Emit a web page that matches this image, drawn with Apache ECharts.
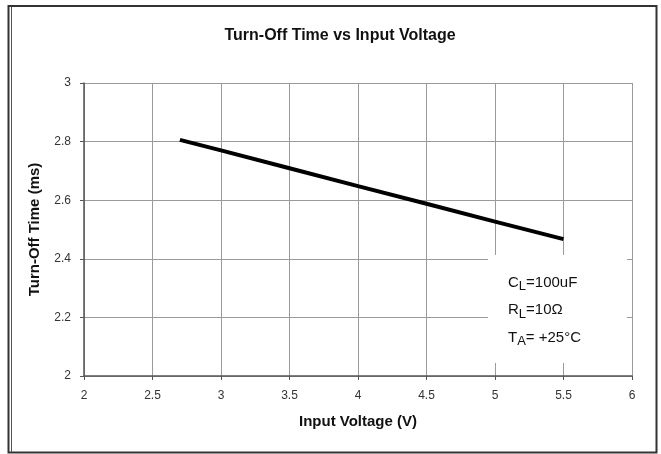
<!DOCTYPE html>
<html>
<head>
<meta charset="utf-8">
<script src="https://cdn.jsdelivr.net/npm/echarts@6/dist/echarts.min.js"></script>
<style>
html, body { margin: 0; padding: 0; background: #fff; }
#chart { width: 661px; height: 454px; }
</style>
</head>
<body>
<div id="chart"></div>
<script>
// data
var voltage = [2.7, 3, 3.5, 4, 4.5, 5, 5.5];
var turnOff = [2.806, 2.770, 2.709, 2.648, 2.588, 2.527, 2.467];
var notes = ['C{s|L}=100uF', 'R{s|L}=10Ω', 'T{s|A}= +25°C'];

var chart = echarts.init(document.getElementById('chart'));

var pairs = voltage.map(function (v, i) { return [v, turnOff[i]]; });

chart.setOption({
    backgroundColor: '#fff',
    animation: false,
    title: {
        text: 'Turn-Off Time vs Input Voltage',
        left: 335, top: 23, textAlign: 'center',
        textStyle: { fontFamily: 'Liberation Sans', fontSize: 16, fontWeight: 'bold', color: '#111' }
    },
    grid: { left: 84, right: 29, top: 83, bottom: 78 },
    xAxis: {
        type: 'value', min: 2, max: 6, interval: 0.5,
        name: 'Input Voltage (V)', nameLocation: 'middle', nameGap: 38,
        nameTextStyle: { fontFamily: 'Liberation Sans', fontSize: 15, fontWeight: 'bold', color: '#111' },
        axisLine: { lineStyle: { color: '#555', width: 1.5 } },
        axisTick: { show: true, length: 4, lineStyle: { color: '#555' } },
        axisLabel: { fontFamily: 'Liberation Sans', fontSize: 12, color: '#333', margin: 14 },
        splitLine: { lineStyle: { color: '#9a9a9a', width: 1 } }
    },
    yAxis: {
        type: 'value', min: 2, max: 3, interval: 0.2,
        name: 'Turn-Off Time (ms)', nameLocation: 'middle', nameGap: 42,
        nameTextStyle: { fontFamily: 'Liberation Sans', fontSize: 15, fontWeight: 'bold', color: '#111' },
        axisLine: { show: true, lineStyle: { color: '#555', width: 1.5 } },
        axisTick: { show: true, length: 4, lineStyle: { color: '#555' } },
        axisLabel: {
            fontFamily: 'Liberation Sans', fontSize: 12, color: '#333', margin: 13,
            formatter: function (v) { return String(Math.round(v * 10) / 10); }
        },
        splitLine: { lineStyle: { color: '#9a9a9a', width: 1 } }
    },
    series: [{
        type: 'line',
        data: pairs,
        showSymbol: false,
        lineStyle: { color: '#000', width: 4 }
    }],
    graphic: [
        {
            type: 'rect', z: 0,
            shape: { x: 8.5, y: 6, width: 648, height: 446.5 },
            style: { fill: null, stroke: '#333', lineWidth: 2 }
        },
        {
            type: 'line', z: 0,
            shape: { x1: 11.5, y1: 7, x2: 11.5, y2: 452 },
            style: { stroke: '#555', lineWidth: 1 }
        },
        {
            type: 'rect', z: 10,
            shape: { x: 488, y: 255, width: 139, height: 108 },
            style: { fill: '#fff', stroke: null }
        },
        {
            type: 'text', left: 508, top: 269, z: 11,
            style: {
                text: notes.join('\n'),
                fontFamily: 'Liberation Sans', fontSize: 15, fill: '#111', lineHeight: 27.5,
                rich: { s: { fontSize: 13, padding: [8, 0, 0, 0], fill: '#111', fontFamily: 'Liberation Sans' } }
            }
        }
    ]
});
</script>
</body>
</html>
